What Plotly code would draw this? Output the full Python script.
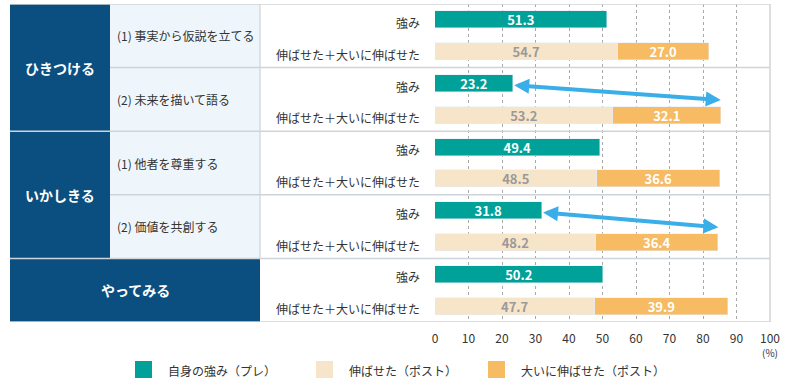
import plotly.graph_objects as go

# ---- data ----
groups = ["ひきつける", "いかしきる", "やってみる"]
group_rows = [[0, 1], [2, 3], [4]]
items = ["(1) 事実から仮説を立てる", "(2) 未来を描いて語る", "(1) 他者を尊重する", "(2) 価値を共創する", ""]
row_labels = ["強み", "伸ばせた＋大いに伸ばせた"]
strength = [51.3, 23.2, 49.4, 31.8, 50.2]
grew = [54.7, 53.2, 48.5, 48.2, 47.7]
grew_much = [27.0, 32.1, 36.6, 36.4, 39.9]
arrow_rows = [1, 3]
x_ticks = [0, 10, 20, 30, 40, 50, 60, 70, 80, 90, 100]
legend_names = ["自身の強み（プレ）", "伸ばせた（ポスト）", "大いに伸ばせた（ポスト）"]

# ---- style ----
FONT = "Noto Sans CJK JP"
TEAL = "#00a199"
BEIGE = "#f7e5c9"
ORANGE = "#f6bb63"
NAVY = "#0b4f80"
LIGHT = "#eef6fb"
LINE = "#cfd4d8"
ARROW = "#3aaee8"

W, H = 790, 381
L, R, T, B = 435, 770, 4, 322


def px(x):
    return (x - L) / (R - L)


def py(y):
    return (B - y) / (B - T)


n = len(strength)
y_str = [2 * i for i in range(n)]
y_grw = [2 * i + 1 for i in range(n)]
BW = 0.54

common = dict(orientation="h", width=BW, texttemplate="%{x:.1f}", textposition="inside",
              insidetextanchor="middle", textangle=0, constraintext="none",
              showlegend=False, hoverinfo="skip")

fig = go.Figure()
fig.add_trace(go.Bar(
    x=strength, y=y_str, marker_color=TEAL, name=legend_names[0],
    textfont=dict(family=FONT, size=13, color="white", weight="bold"), **common))
fig.add_trace(go.Bar(
    x=grew, y=y_grw, marker_color=BEIGE, name=legend_names[1],
    textfont=dict(family=FONT, size=13, color="#9a9a9a", weight="bold"), **common))
fig.add_trace(go.Bar(
    x=grew_much, y=y_grw, marker_color=ORANGE, name=legend_names[2],
    textfont=dict(family=FONT, size=13, color="white", weight="bold"), **common))

shapes = []
ann = []

# table backgrounds
shapes.append(dict(type="rect", xref="paper", yref="y", x0=px(110), x1=px(260),
                   y0=-0.5, y1=2 * 4 - 0.5, fillcolor=LIGHT, line_width=0, layer="below"))
for gi, (g, rows) in enumerate(zip(groups, group_rows)):
    y0 = 2 * rows[0] - 0.5
    y1 = 2 * rows[-1] + 1.5
    x1 = 110 if len(items[rows[0]]) else 260
    shapes.append(dict(type="rect", xref="paper", yref="y", x0=px(10), x1=px(x1),
                       y0=y0, y1=y1, fillcolor=NAVY, line_width=0, layer="below"))
    ann.append(dict(xref="paper", yref="y", x=px((10 + x1) / 2), y=(y0 + y1) / 2, text=g,
                    showarrow=False, xanchor="center", yanchor="middle",
                    font=dict(family=FONT, size=14, color="white", weight="bold")))

# row separators
for i in range(n + 1):
    yy = 2 * i - 0.5
    is_group_edge = any(yy == 2 * r[0] - 0.5 for r in group_rows) or i == n
    x0 = 10 if is_group_edge else 110
    shapes.append(dict(type="line", xref="paper", yref="y", x0=px(x0), x1=px(R),
                       y0=yy, y1=yy, line=dict(color=LINE, width=1.5), layer="above"))
shapes.append(dict(type="line", xref="paper", yref="y", x0=px(260), x1=px(260),
                   y0=-0.5, y1=7.5, line=dict(color=LINE, width=1.2), layer="above"))
shapes.append(dict(type="line", xref="paper", yref="paper", x0=1, x1=1,
                   y0=0, y1=1, line=dict(color=LINE, width=1.5), layer="above"))

# sub-item and row labels
for i in range(n):
    if items[i]:
        ann.append(dict(xref="paper", yref="y", x=px(115), y=2 * i + 0.5, text=items[i],
                        showarrow=False, xanchor="left", yanchor="middle",
                        font=dict(family=FONT, size=12, color="#333333")))
    for k, lab in enumerate(row_labels):
        ann.append(dict(xref="paper", yref="y", x=px(422), y=2 * i + k + 0.08, text=lab,
                        showarrow=False, xanchor="right", yanchor="middle",
                        font=dict(family=FONT, size=12, color="#333333")))

# arrows
for i in arrow_rows:
    ann.append(dict(xref="x", yref="y", axref="x", ayref="y",
                    x=grew[i] + grew_much[i], y=2 * i + 0.52,
                    ax=strength[i], ay=2 * i + 0.05, text="",
                    showarrow=True, arrowside="end+start", arrowhead=2, startarrowhead=2,
                    arrowsize=0.75, startarrowsize=0.75, arrowwidth=4, arrowcolor=ARROW,
                    standoff=0, startstandoff=0))

# (%) unit
ann.append(dict(xref="paper", yref="paper", x=1, y=py(352), text="(%)", showarrow=False,
                xanchor="center", yanchor="middle", font=dict(family=FONT, size=10, color="#333333")))

# legend
leg_x = [135, 316, 488]
leg_colors = [TEAL, BEIGE, ORANGE]
for lx, c, name in zip(leg_x, leg_colors, legend_names):
    shapes.append(dict(type="rect", xref="paper", yref="paper", x0=px(lx), x1=px(lx + 17),
                       y0=py(378), y1=py(361), fillcolor=c, line_width=0))
    ann.append(dict(xref="paper", yref="paper", x=px(lx + 31), y=py(370), text=name,
                    showarrow=False, xanchor="left", yanchor="middle",
                    font=dict(family=FONT, size=12, color="#333333")))

fig.update_layout(
    width=W, height=H, margin=dict(l=L, r=W - R, t=T, b=H - B),
    paper_bgcolor="white", plot_bgcolor="white",
    barmode="stack", bargap=0, showlegend=False,
    shapes=shapes, annotations=ann,
    font=dict(family=FONT, size=12, color="#333333"),
    xaxis=dict(range=[0, 100], tickvals=x_ticks, showgrid=True, gridcolor="#a8a8a8",
               griddash="3px,3px", gridwidth=1, zeroline=False, showline=False,
               ticks="outside", ticklen=6, tickcolor="rgba(0,0,0,0)",
               tickfont=dict(family=FONT, size=12, color="#333333"), fixedrange=True),
    yaxis=dict(range=[2 * n - 0.5, -0.5], showticklabels=False, showgrid=False,
               zeroline=False, showline=False, fixedrange=True),
)

fig.write_html("out.html", config={"displayModeBar": False},
               post_script="document.body.style.margin='0';document.body.style.overflow='hidden';")
